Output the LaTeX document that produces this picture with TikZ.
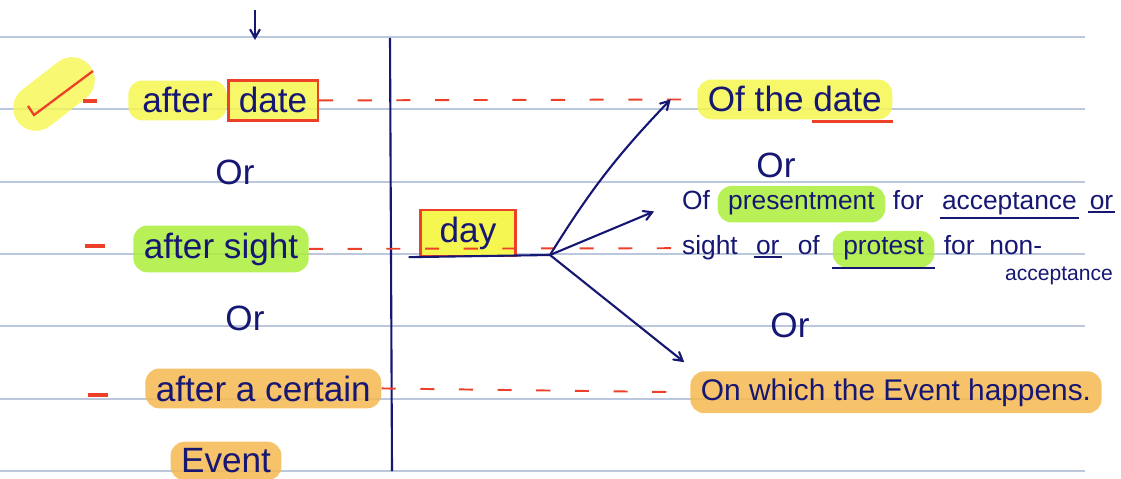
\documentclass[tikz,border=0pt]{standalone}
\usepackage{fontspec}
\setmainfont{Liberation Sans}
\usetikzlibrary{positioning,arrows}

\definecolor{ink}{RGB}{22,22,115}
\definecolor{pen}{RGB}{236,64,40}
\definecolor{paperline}{RGB}{186,199,220}
\definecolor{hlyel}{RGB}{246,246,80}
\definecolor{hlgrn}{RGB}{172,238,58}
\definecolor{hlorg}{RGB}{246,184,80}

\tikzset{
  word/.style={text=ink, inner sep=2pt, font=\fontsize{20}{24}\selectfont},
  rtext/.style={text=ink, inner sep=1pt, font=\fontsize{15}{18}\selectfont},
  hl/.style={fill=#1, fill opacity=.85, text opacity=1, rounded corners=8pt, inner xsep=6pt, inner ysep=4pt},
  daybox/.style={draw=pen, line width=1.5pt, fill=hlyel, minimum width=54pt, minimum height=26pt},
  redpen/.style={draw=pen, line width=1.3pt},
  reddash/.style={pen, line width=1.1pt, dash pattern=on 8pt off 14pt},
  inkline/.style={ink, line width=1.2pt, >=angle 60},
}

\begin{document}
\begin{tikzpicture}[x=0.02cm, y=-0.02cm]
  \useasboundingbox (0,0) rectangle (1121,479);
  % ruled page
  \foreach \y in {37,109,182,254,326,399,471}
    \draw[paperline, line width=0.8pt] (0,\y) -- (1085,\y);
  \draw[inkline] (390,38) -- (392,471);
  \draw[inkline,->] (255,10) -- (255,40);

  % tick
  \draw[hlyel, line width=26pt, line cap=round, opacity=.8] (36,108) -- (72,80);
  \draw[redpen] (28,106) -- (34,115) -- (93,71);

  % left column
  \node[word, hl=hlyel, inner xsep=8pt, anchor=base west] (after1) at (128,113) {after};
  \node[word, hl=hlyel, draw=pen, line width=1.4pt, sharp corners, base right=0pt of after1] (date1) {date};
  \node[word] (or1) at (235,172) {Or};
  \node[word, hl=hlgrn, anchor=base west] (sight1) at (133,258) {after sight};
  \node[word] (or2) at (245,318) {Or};
  \node[word, hl=hlorg, anchor=base west] (certain) at (145,401) {after a certain};
  \node[word, hl=hlorg] (event) at (226,461) {Event};
  \foreach \y/\a/\b in {101/83/97, 246/85/105, 395/88/108}
    \draw[pen, line width=2pt] (\a,\y) -- (\b,\y);

  % day and its branches
  \node[word, daybox] (day) at (468,233) {day};
  \coordinate (fork) at (550,255);
  \draw[inkline] ([xshift=-6pt]day.south west) -- (fork);

  % right column
  \node[word, hl=hlyel, anchor=base west] (ofdate) at (697,112) {Of the date};
  \draw[redpen] ([xshift=-46pt,yshift=-1pt]ofdate.south east) -- ([yshift=-1pt]ofdate.south east);
  \node[word] (or3) at (776,165) {Or};

  \node[rtext, anchor=base west] (of2) at (680,210) {Of};
  \node[rtext, hl=hlgrn, base right=3pt of of2] (present) {presentment};
  \node[rtext, base right=3pt of present] (for2) {for};
  \node[rtext, base right=8pt of for2] (accept) {acceptance};
  \node[rtext, base right=5pt of accept] (or4) {or};
  \draw[inkline] (accept.south west) -- (accept.south east);
  \draw[inkline] (or4.south west) -- (or4.south east);

  \node[rtext, anchor=base west] (sight2) at (680,255) {sight};
  \node[rtext, base right=8pt of sight2] (or5) {or};
  \node[rtext, base right=8pt of or5] (of3) {of};
  \node[rtext, hl=hlgrn, base right=6pt of of3] (protest) {protest};
  \node[rtext, base right=4pt of protest] (for3) {for};
  \node[rtext, base right=6pt of for3] (non) {non-};
  \node[rtext, font=\fontsize{12}{14}\selectfont, anchor=base west] (accept2) at (1003,280) {acceptance};
  \draw[inkline] (or5.south west) -- (or5.south east);
  \draw[inkline] (protest.south west) -- (protest.south east);

  \node[word] (or6) at (790,325) {Or};
  \node[word, hl=hlorg, font=\fontsize{17}{20}\selectfont, anchor=base west] (onwhich) at (690,400) {On which the Event happens.};

  % red guide lines
  \draw[reddash] (date1.east) -- (ofdate.west);
  \draw[reddash] (sight1.east) -- (sight2.west);
  \draw[reddash] (certain.east) -- (onwhich.west);

  \draw[inkline,->] (fork) to[bend left=6] ([xshift=-15pt]ofdate.west);
  \draw[inkline,->, shorten >=16pt] (fork) -- (of2.west);
  \draw[inkline,->, shorten >=8pt] (fork) -- ([xshift=3pt]onwhich.north west);
\end{tikzpicture}
\end{document}
